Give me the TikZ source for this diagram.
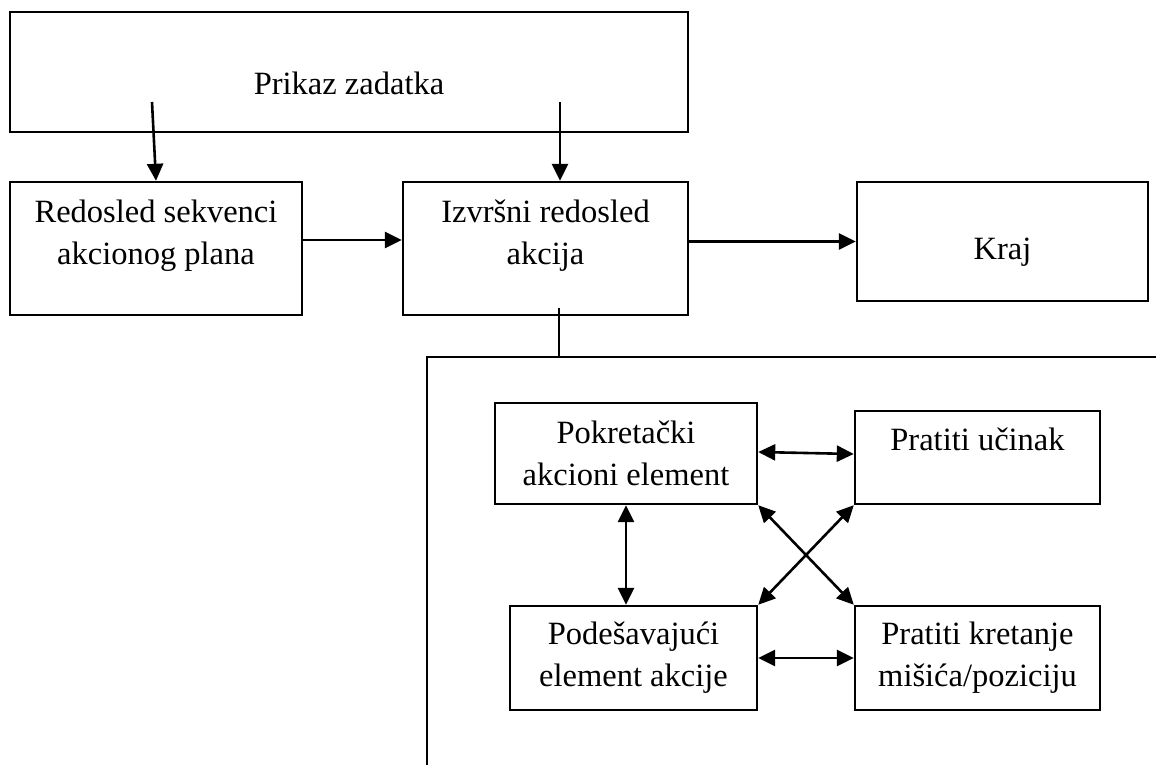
\documentclass[tikz,border=0pt]{standalone}
\usepackage{fontspec}
\setmainfont{Liberation Serif}
\usetikzlibrary{arrows.meta}
\begin{document}
\begin{tikzpicture}[x=1pt,y=-1pt,
  box/.style={draw,line width=2.4pt,rectangle,inner sep=0pt,align=center,
    font=\fontsize{32.5}{42}\selectfont},
  arr/.style={line width=2.6pt,-{Triangle[length=17pt,width=16pt]}},
  biarr/.style={line width=2.6pt,{Triangle[length=17pt,width=16pt]}-{Triangle[length=17pt,width=16pt]}},
  frame/.style={line width=2.4pt},
  link/.style={line width=1.5pt}]
\useasboundingbox (0,0) rectangle (1156,765);
% top row
\node[box,minimum width=678pt,minimum height=120pt,text height=46pt,text depth=0pt] (prikaz) at (349,72) {Prikaz zadatka};
\node[box,minimum width=292pt,minimum height=133pt,text height=64pt,text depth=33pt] (red) at (156,248.5) {Redosled sekvenci\\akcionog plana};
\node[box,minimum width=285pt,minimum height=133pt,text height=64pt,text depth=33pt] (izv) at (545.5,248.5) {Izvršni redosled\\akcija};
\node[box,minimum width=291pt,minimum height=119pt,text height=36pt,text depth=0pt] (kraj) at (1002.5,241.5) {Kraj};
% inner boxes
\node[box,minimum width=262pt,minimum height=101pt] (pok) at (626,453.5) {Pokretački\\akcioni element};
\node[box,minimum width=245pt,minimum height=93pt,text height=8pt,text depth=23pt] (puc) at (977.5,457.5) {Pratiti učinak};
\node[box,minimum width=247pt,minimum height=104pt] (pod) at (633.5,658) {Podešavajući\\element akcije};
\node[box,minimum width=245pt,minimum height=104pt] (pkr) at (977.5,658) {Pratiti kretanje\\mišića/poziciju};
% frame
\coordinate (fbl) at (427,765);
\coordinate (ftl) at (427,357);
\coordinate (ftr) at (1156,357);
\draw[frame] (fbl) -- (ftl) -- (ftr);
% connectors
\coordinate (s1) at (152,102);
\coordinate (s2) at (560,102);
\coordinate (s3) at (559,308);
\draw[arr] (s1) -- (red.north);
\draw[arr] (s2) -- (s2 |- izv.north);
\draw[arr] ([yshift=8.5pt]red.east) -- ([yshift=8.5pt]izv.west);
\draw[arr] (izv.east |- kraj.west) -- (kraj.west);
\draw[link] (s3) -- (s3 |- ftl);
\draw[biarr] ([yshift=1.5pt]pok.east) -- ([yshift=3.5pt]puc.west);
\draw[biarr] (pok.south) -- (pok.south |- pod.north);
\draw[biarr] (pod.east) -- (pkr.west);
\draw[biarr] (pok.south east) -- (pkr.north west);
\draw[biarr] (puc.south west) -- (pod.north east);
\end{tikzpicture}
\end{document}
